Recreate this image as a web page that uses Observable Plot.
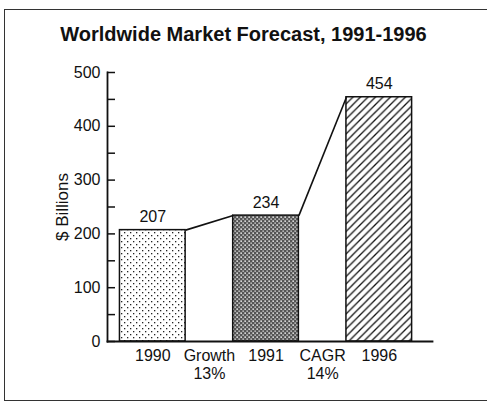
<!DOCTYPE html>
<html>
<head>
<meta charset="utf-8">
<script src="https://cdn.jsdelivr.net/npm/d3@7"></script>
<script src="https://cdn.jsdelivr.net/npm/@observablehq/plot@0.6"></script>
<style>
  html, body { margin: 0; padding: 0; background: #fff; }
  #chart { position: relative; width: 487px; height: 402px; overflow: hidden; font-family: "Liberation Sans", Arial, sans-serif; }
  #chart svg { position: absolute; left: 0; top: 0; }
  #title { position: absolute; left: 0; width: 487px; top: 23px; text-align: center;
           font: bold 20px "Liberation Sans", Arial, sans-serif; color: #111; }
  #border { position: absolute; left: 4px; top: 9px; width: 520px; height: 392px; border: 1.5px solid #333; box-sizing: border-box; }
</style>
</head>
<body>
<div id="chart">
  <div id="title">Worldwide Market Forecast, 1991-1996</div>
  <div id="border"></div>
</div>
<script>
// Slots along the horizontal axis: bars sit on the year slots, growth notes between them
const categories = ["1990", "Growth\n13%", "1991", "CAGR\n14%", "1996"];
const years = ["1990", "1991", "1996"];
const values = [207, 234, 454];           // $ billions
const fills = ["dots", "crosshatch", "hatch"];
const yTicks = d3.range(0, 501, 50);
const yLabels = d3.range(0, 501, 100);

const halfWidth = 0.58;
const bars = years.map((year, i) => ({
  year,
  slot: categories.indexOf(year),
  value: values[i],
  fill: `url(#${fills[i]})`
}));
const links = d3.pairs(bars).map(([a, b]) => ({a, b}));

const plot = Plot.plot({
  width: 487,
  height: 402,
  marginTop: 72,
  marginBottom: 61,
  marginLeft: 107,
  marginRight: 55,
  style: {fontFamily: "'Liberation Sans', Arial, sans-serif", fontSize: "16px", color: "#111", background: "transparent"},
  x: {type: "linear", domain: [-0.8, 4.94], axis: null},
  y: {domain: [0, 500], axis: null},
  color: {type: "identity"},
  marks: [
    Plot.rectY(bars, {
      x1: d => d.slot - halfWidth,
      x2: d => d.slot + halfWidth,
      y: "value",
      fill: "fill",
      stroke: "#111",
      strokeWidth: 1.5
    }),
    Plot.link(links, {
      x1: d => d.a.slot + halfWidth, y1: d => d.a.value,
      x2: d => d.b.slot - halfWidth, y2: d => d.b.value,
      stroke: "#111",
      strokeWidth: 1.6
    }),
    Plot.text(bars, {
      x: "slot", y: "value", text: d => String(d.value),
      dy: -13, fontSize: 16, fill: "#111"
    }),
    Plot.frame({anchor: "left", stroke: "#111", strokeWidth: 1.8}),
    Plot.frame({anchor: "bottom", stroke: "#111", strokeWidth: 1.8}),
    Plot.axisY(yTicks, {tickSize: -8, tickFormat: () => "", label: null, strokeWidth: 1.5, stroke: "#111"}),
    Plot.axisY(yLabels, {tickSize: 0, tickPadding: 7, label: null, fontSize: 16, fill: "#111"}),
    Plot.axisX(d3.range(categories.length), {
      tickSize: 0, tickPadding: 6, label: null, fontSize: 16, lineHeight: 1.15,
      tickFormat: i => categories[i], fill: "#111"
    }),
    Plot.text(["$ Billions"], {
      frameAnchor: "left", dx: -45, rotate: -90, textAnchor: "middle",
      fontSize: 17, fill: "#111"
    })
  ]
});

// Fill patterns for the three bars
d3.select(plot).insert("defs", ":first-child").html(`
  <pattern id="dots" width="6" height="6" patternUnits="userSpaceOnUse">
    <rect width="6" height="6" fill="#fff"/>
    <rect x="1" y="1" width="1.3" height="1.3" fill="#222"/>
    <rect x="4" y="4" width="1.3" height="1.3" fill="#222"/>
  </pattern>
  <pattern id="crosshatch" width="4" height="4" patternUnits="userSpaceOnUse">
    <rect width="4" height="4" fill="#555"/>
    <rect x="0.4" y="0.4" width="1.5" height="1.5" fill="#f2f2f2"/>
    <rect x="2.4" y="2.4" width="1.5" height="1.5" fill="#c8c8c8"/>
  </pattern>
  <pattern id="hatch" width="7.5" height="7.5" patternUnits="userSpaceOnUse">
    <rect width="7.5" height="7.5" fill="#fff"/>
    <path d="M-1,8.5 L8.5,-1 M-1,1 L1,-1 M6.5,8.5 L8.5,6.5" stroke="#111" stroke-width="1.3"/>
  </pattern>
`);

const chart = document.getElementById("chart");
chart.insertBefore(plot, chart.firstChild);
</script>
</body>
</html>
